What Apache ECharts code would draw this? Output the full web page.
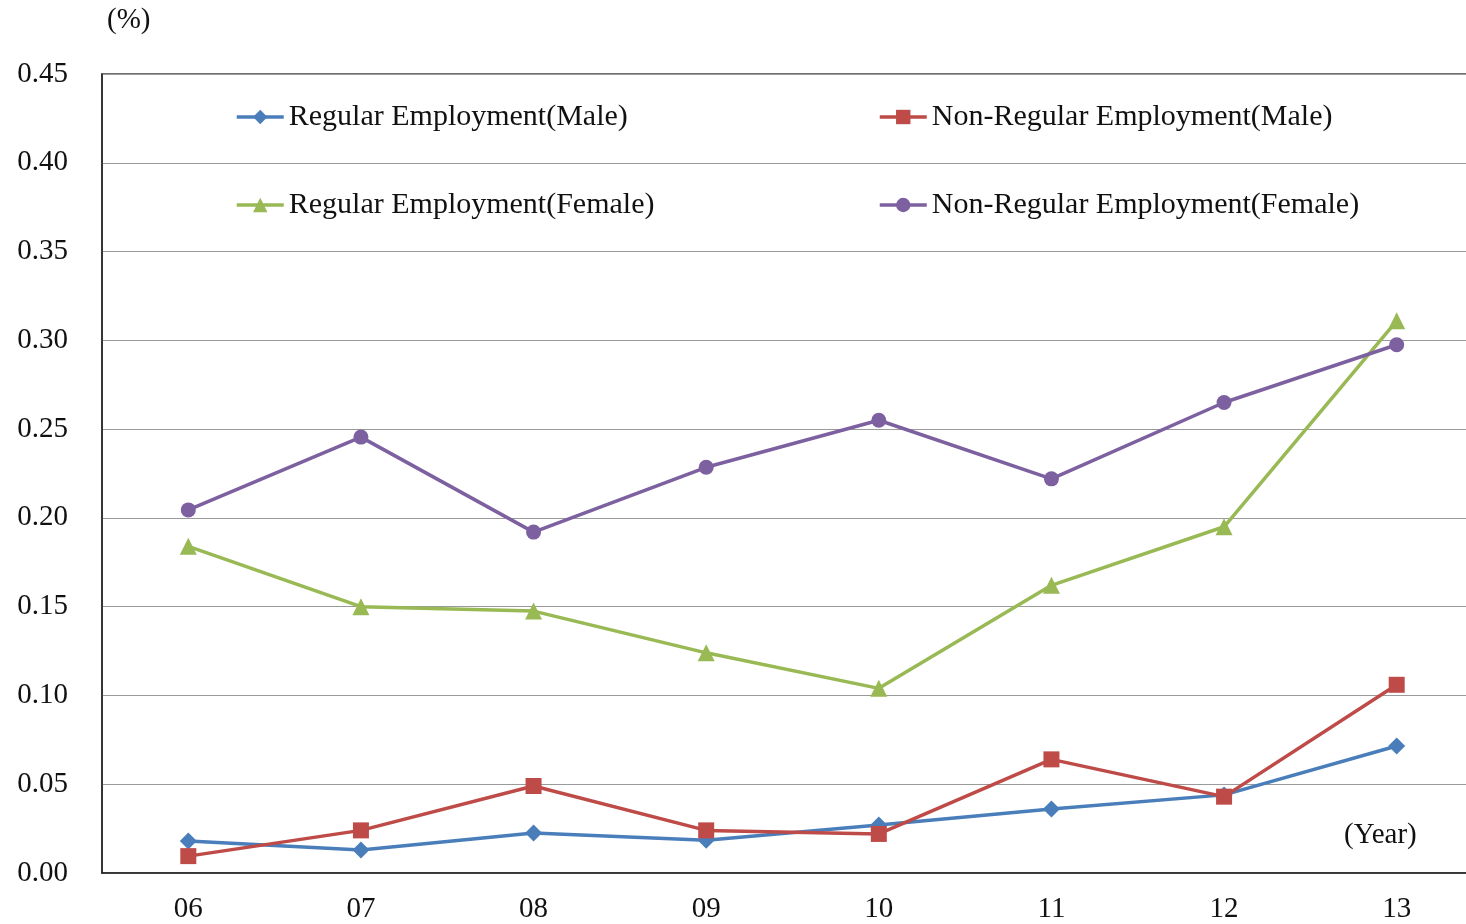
<!DOCTYPE html>
<html>
<head>
<meta charset="utf-8">
<script src="https://cdn.jsdelivr.net/npm/echarts@6/dist/echarts.min.js"></script>
<style>
  html, body { margin: 0; padding: 0; background: #fff; overflow: hidden; }
  #chart { width: 1466px; height: 924px; }
</style>
</head>
<body>
<div id="chart"></div>
<script>
// Year categories (two-digit years)
const years = ['06', '07', '08', '09', '10', '11', '12', '13'];

// Rates (%) by employment type and sex
const regularMale      = [0.018, 0.013, 0.0225, 0.0185, 0.027, 0.036, 0.044, 0.0715];
const nonRegularMale   = [0.0095, 0.024, 0.049, 0.024, 0.022, 0.064, 0.043, 0.106];
const regularFemale    = [0.184, 0.150, 0.1475, 0.124, 0.104, 0.162, 0.195, 0.311];
const nonRegularFemale = [0.2045, 0.2455, 0.192, 0.2285, 0.255, 0.222, 0.265, 0.2975];

const yTicks = { min: 0, max: 0.45, interval: 0.05 };

const seriesNames = [
  'Regular Employment(Male)',
  'Non-Regular Employment(Male)',
  'Regular Employment(Female)',
  'Non-Regular Employment(Female)'
];

const FONT = '"Liberation Serif", "Times New Roman", serif';
const FS = 29;
const chart = echarts.init(document.getElementById('chart'));

function lineSeries(name, data, color, symbol, size) {
  return {
    name, type: 'line', data,
    symbol, symbolSize: size,
    showSymbol: true,
    itemStyle: { color },
    lineStyle: { color, width: 3.5 },
    z: 3
  };
}

const legendBase = {
  orient: 'vertical', top: 102, padding: 0, itemGap: 58,
  itemWidth: 47, itemHeight: 18,
  textStyle: { fontFamily: FONT, fontSize: 30, color: '#111' },
  lineStyle: { width: 3.5 },
  selectedMode: false
};

chart.setOption({
  animation: false,
  backgroundColor: '#fff',
  // the plot runs slightly past the right edge of the page
  grid: {
    left: 102, top: 74, width: 1381, height: 799,
    outerBoundsMode: 'none',
    show: true, borderColor: '#444', borderWidth: 1.5
  },
  legend: [
    Object.assign({ data: [seriesNames[0], seriesNames[2]], left: 235 }, legendBase),
    Object.assign({ data: [seriesNames[1], seriesNames[3]], left: 878 }, legendBase)
  ],
  xAxis: {
    type: 'category',
    data: years,
    boundaryGap: true,
    axisLine: { lineStyle: { color: '#222', width: 1.5 } },
    axisTick: { show: false },
    axisLabel: { fontFamily: FONT, fontSize: FS, color: '#111', margin: 22 }
  },
  yAxis: {
    type: 'value',
    min: yTicks.min, max: yTicks.max, interval: yTicks.interval,
    axisLine: { show: true, lineStyle: { color: '#222', width: 1.5 } },
    axisTick: { show: false },
    splitLine: { lineStyle: { color: '#9a9a9a', width: 1.2 } },
    axisLabel: {
      fontFamily: FONT, fontSize: FS, color: '#111', margin: 34,
      formatter: v => v.toFixed(2)
    }
  },
  graphic: [
    {
      type: 'text', left: 107, top: 6,
      style: { text: '(%)', font: FS + 'px ' + FONT, fill: '#111' }
    },
    {
      type: 'text', left: 1344, top: 821,
      style: { text: '(Year)', font: FS + 'px ' + FONT, fill: '#111' }
    }
  ],
  series: [
    lineSeries(seriesNames[0], regularMale, '#4a7ebb', 'diamond', 17),
    lineSeries(seriesNames[1], nonRegularMale, '#be4b48', 'rect', 16),
    lineSeries(seriesNames[2], regularFemale, '#98b954', 'triangle', 17),
    lineSeries(seriesNames[3], nonRegularFemale, '#7d60a0', 'circle', 15)
  ]
});
</script>
</body>
</html>
